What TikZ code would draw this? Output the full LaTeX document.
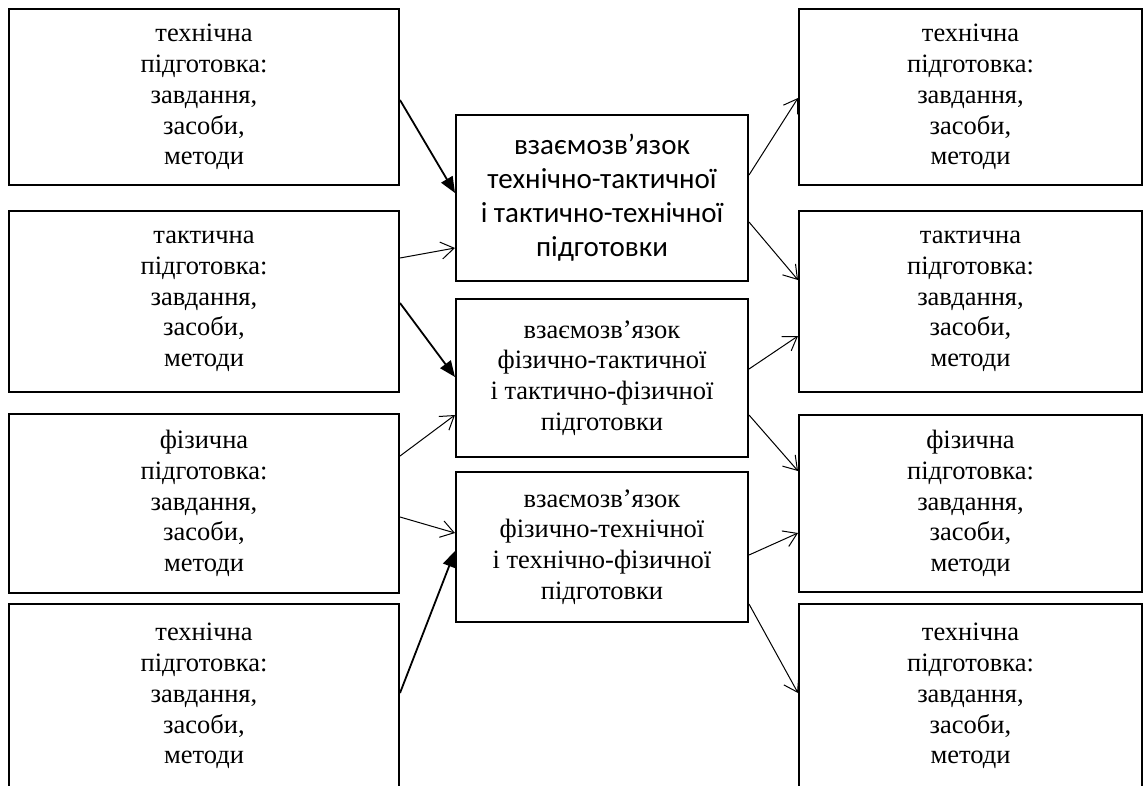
\documentclass[tikz,border=0pt]{standalone}
\usepackage{fontspec}
\setmainfont{Liberation Serif}
\newfontfamily\calibfont{Carlito}
\usetikzlibrary{arrows.meta,calc}
\begin{document}
\begin{tikzpicture}[x=1pt,y=-1pt,
  box/.style={draw, line width=2pt, align=center, inner sep=0pt, font=\fontsize{26.5}{30.8}\selectfont},
  sidebox/.style={box, minimum width=390pt},
  rightbox/.style={box, minimum width=343pt},
  midbox/.style={box, minimum width=292pt},
  openarr/.style={line width=1pt, -{Straight Barb[length=13pt,width=17pt]}},
  fillarr/.style={line width=1.8pt, -{Triangle[length=16pt,width=13pt]}}]
\useasboundingbox (0,0) rectangle (1144,785);
\clip (0,0) rectangle (1144,785);
% left column
\node[sidebox, minimum height=176pt] (L1) at (204,97) {технічна\\підготовка:\\завдання,\\засоби,\\методи};
\node[sidebox, minimum height=181pt] (L2) at (204,301.5) {тактична\\підготовка:\\завдання,\\засоби,\\методи};
\node[sidebox, minimum height=179pt] (L3) at (204,503.5) {фізична\\підготовка:\\завдання,\\засоби,\\методи};
\node[sidebox, minimum height=184pt] (L4) at (204,696) {технічна\\підготовка:\\завдання,\\засоби,\\методи};
% right column
\node[rightbox, minimum height=176pt] (R1) at (970.5,97) {технічна\\підготовка:\\завдання,\\засоби,\\методи};
\node[rightbox, minimum height=181pt] (R2) at (970.5,301.5) {тактична\\підготовка:\\завдання,\\засоби,\\методи};
\node[rightbox, minimum height=177pt] (R3) at (970.5,503.5) {фізична\\підготовка:\\завдання,\\засоби,\\методи};
\node[rightbox, minimum height=184pt] (R4) at (970.5,696) {технічна\\підготовка:\\завдання,\\засоби,\\методи};
% middle column
\node[midbox, minimum height=166pt, font=\calibfont\fontsize{29}{34}\selectfont] (M1) at (602,198) {взаємозв’язок\\технічно-тактичної\\і тактично-технічної\\підготовки};
\node[midbox, minimum height=158pt] (M2) at (602,378) {взаємозв’язок\\фізично-тактичної\\і тактично-фізичної\\підготовки};
\node[midbox, minimum height=150pt] (M3) at (602,547) {взаємозв’язок\\фізично-технічної\\і технічно-фізичної\\підготовки};
% arrows into middle
\draw[fillarr] ($(L1.east)+(0,3)$) -- ($(M1.west)+(0,-5)$);
\draw[openarr] ($(L2.east)+(0,-43.5)$) -- ($(M1.west)+(0,50)$);
\draw[fillarr] ($(L2.east)+(0,1.5)$) -- ($(M2.west)+(0,-1)$);
\draw[openarr] ($(L3.east)+(0,-47.5)$) -- ($(M2.west)+(0,37)$);
\draw[openarr] ($(L3.east)+(0,13.5)$) -- ($(M3.west)+(0,-14)$);
\draw[fillarr] ($(L4.east)+(0,-3)$) -- ($(M3.west)+(0,4)$);
% arrows out of middle
\draw[openarr] ($(M1.east)+(0,-23)$) -- ($(R1.west)+(0,1)$);
\draw[openarr] ($(M1.east)+(0,24)$) -- ($(R2.west)+(0,-21.5)$);
\draw[openarr] ($(M2.east)+(0,-9)$) -- ($(R2.west)+(0,34.5)$);
\draw[openarr] ($(M2.east)+(0,37)$) -- ($(R3.west)+(0,-32.5)$);
\draw[openarr] ($(M3.east)+(0,8)$) -- ($(R3.west)+(0,29.5)$);
\draw[openarr] ($(M3.east)+(0,57)$) -- ($(R4.west)+(0,-3)$);
\end{tikzpicture}
\end{document}
